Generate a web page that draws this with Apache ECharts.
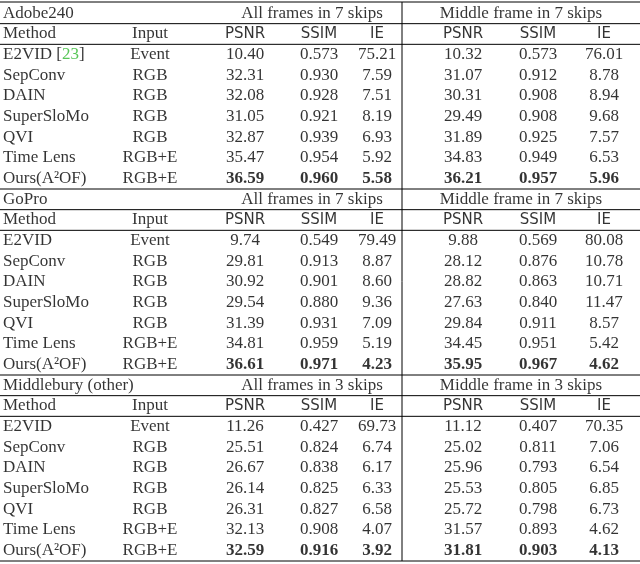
<!DOCTYPE html><html><head><meta charset="utf-8">
<script src="https://cdn.jsdelivr.net/npm/echarts@6/dist/echarts.min.js"></script>
<style>html,body{margin:0;background:#fff}#c{width:640px;height:564px}</style></head><body><div id="c"></div>
<script>
const blocks=["Adobe240","GoPro","Middlebury (other)"];
const skips=["7","7","3"];
const methods=["E2VID","SepConv","DAIN","SuperSloMo","QVI","Time Lens","Ours(A²OF)"];
const inputs=["Event","RGB","RGB","RGB","RGB","RGB+E","RGB+E"];
const adobeVals=[
["10.40","0.573","75.21","10.32","0.573","76.01"],
["32.31","0.930","7.59","31.07","0.912","8.78"],
["32.08","0.928","7.51","30.31","0.908","8.94"],
["31.05","0.921","8.19","29.49","0.908","9.68"],
["32.87","0.939","6.93","31.89","0.925","7.57"],
["35.47","0.954","5.92","34.83","0.949","6.53"],
["36.59","0.960","5.58","36.21","0.957","5.96"]];
const goproVals=[
["9.74","0.549","79.49","9.88","0.569","80.08"],
["29.81","0.913","8.87","28.12","0.876","10.78"],
["30.92","0.901","8.60","28.82","0.863","10.71"],
["29.54","0.880","9.36","27.63","0.840","11.47"],
["31.39","0.931","7.09","29.84","0.911","8.57"],
["34.81","0.959","5.19","34.45","0.951","5.42"],
["36.61","0.971","4.23","35.95","0.967","4.62"]];
const middVals=[
["11.26","0.427","69.73","11.12","0.407","70.35"],
["25.51","0.824","6.74","25.02","0.811","7.06"],
["26.67","0.838","6.17","25.96","0.793","6.54"],
["26.14","0.825","6.33","25.53","0.805","6.85"],
["26.31","0.827","6.58","25.72","0.798","6.73"],
["32.13","0.908","4.07","31.57","0.893","4.62"],
["32.59","0.916","3.92","31.81","0.903","4.13"]];
const metricLabels=["PSNR","SSIM","IE","PSNR","SSIM","IE"];
const allVals=[adobeVals,goproVals,middVals];
const colX=[3,150,245,319,377,463,538,604];
const rows=[];for(let i=0;i<27;i++)rows.push(String(i));
const pts=[];
function add(x,r,t,opt){pts.push({value:[x,String(r)],label:Object.assign({formatter:t},opt||{})});}
blocks.forEach((b,bi)=>{
 const r0=bi*9;
 add(colX[0],r0,b,{align:'left'});
 add(312,r0,"All frames in "+skips[bi]+" skips");
 add(521,r0,"Middle frame in "+skips[bi]+" skips");
 add(colX[0],r0+1,"Method",{align:'left'});
 add(colX[1],r0+1,"Input");
 metricLabels.forEach((m,k)=>add(colX[k+2],r0+1,m,{fontFamily:'DejaVu Sans',fontSize:15}));
 methods.forEach((m,i)=>{
  const r=r0+2+i;
  if(bi===0&&i===0) add(colX[0],r,"{a|E2VID [}{g|23}{a|]}",{align:'left'});
  else add(colX[0],r,m,{align:'left'});
  add(colX[1],r,inputs[i]);
  allVals[bi][i].forEach((v,k)=>add(colX[k+2],r,v,i===6?{fontWeight:'bold'}:{}));
 });
});
const chart=echarts.init(document.getElementById('c'));
const lab={show:true,position:'inside',color:'#000',fontFamily:'Liberation Serif',fontSize:17,align:'center',
 rich:{a:{fontFamily:'Liberation Serif',fontSize:17,color:'#000'},g:{fontFamily:'Liberation Serif',fontSize:17,color:'#2db82d'}}};
chart.setOption({animation:false,
 grid:{left:0,right:0,top:3,bottom:3},
 xAxis:{type:'value',min:0,max:640,show:false},
 yAxis:{type:'category',data:rows,inverse:true,show:false},
 series:[{type:'scatter',symbolSize:0,data:pts,label:lab}]});
const g=[];
function yb(r){const a=chart.convertToPixel({yAxisIndex:0},String(r));const b=chart.convertToPixel({yAxisIndex:0},String(r+1));return r<26?(a+b)/2:a+(a-chart.convertToPixel({yAxisIndex:0},String(r-1)))/2;}
function ytop(r){return r===0?2:yb(r-1);}
function hl(y){g.push({type:'line',shape:{x1:0,y1:y,x2:640,y2:y},style:{stroke:'#000',lineWidth:1}});}
for(let bi=0;bi<3;bi++){const r0=bi*9;hl(ytop(r0));hl(yb(r0));hl(yb(r0+1));}
hl(yb(26));
g.push({type:'line',shape:{x1:402,y1:2,x2:402,y2:yb(26)},style:{stroke:'#000',lineWidth:1}});
chart.setOption({graphic:g});
</script></body></html>
